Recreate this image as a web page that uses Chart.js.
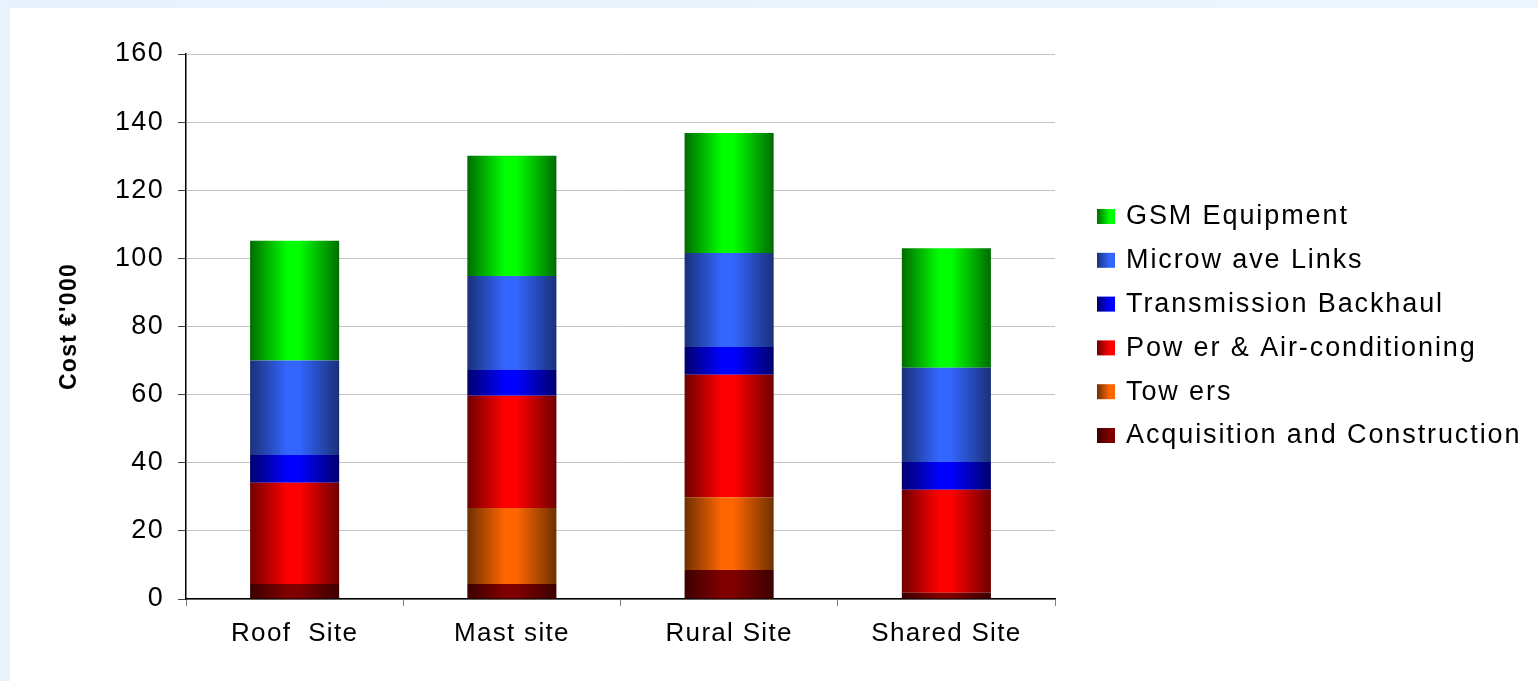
<!DOCTYPE html>
<html>
<head>
<meta charset="utf-8">
<script src="https://cdn.jsdelivr.net/npm/chart.js@4.4.1/dist/chart.umd.min.js"></script>
<style>
  html, body { margin: 0; padding: 0; background: #fff; }
  #wrap { width: 1538px; height: 681px; position: relative; }
</style>
</head>
<body>
<div id="wrap"><canvas id="costChart" width="1538" height="681"></canvas></div>
<script>
const categories = ['Roof  Site', 'Mast site', 'Rural Site', 'Shared Site'];

// bottom to top of each stack
const acquisition  = [4.4, 4.4, 8.5, 1.8];
const towers       = [0, 22.3, 21.4, 0];
const power        = [29.7, 33.0, 35.9, 30.3];
const transmission = [8.2, 7.5, 8.2, 8.1];
const microwave    = [27.7, 27.6, 27.6, 27.7];
const gsm          = [35.2, 35.3, 35.2, 35.1];

const seriesNames = ['Acquisition and Construction', 'Tow ers', 'Pow er & Air-conditioning',
                     'Transmission Backhaul', 'Microw ave Links', 'GSM Equipment'];
const darkCols   = ['#3c0000', '#6e3000', '#700000', '#00006e', '#1a3078', '#006c00'];
const brightCols = ['#800000', '#ff6600', '#ff0000', '#0000ff', '#3366ff', '#00ff00'];

const yMin = 0, yMax = 160, yStep = 20;
const barPct = 0.41;
const LS = '1.3px';

function barFill(i){
  return function(c){
    const chart = c.chart, xs = chart.scales.x;
    if(!xs || !chart.chartArea || c.dataIndex === undefined) return brightCols[i];
    const cx = xs.getPixelForValue(c.dataIndex);
    const w = xs.width / categories.length * barPct;
    const g = chart.ctx.createLinearGradient(cx - w/2, 0, cx + w/2, 0);
    g.addColorStop(0, darkCols[i]);
    g.addColorStop(0.42, brightCols[i]);
    g.addColorStop(0.55, brightCols[i]);
    g.addColorStop(1, darkCols[i]);
    return g;
  };
}

const values = [acquisition, towers, power, transmission, microwave, gsm];
const datasets = values.map((v, i) => ({
  label: seriesNames[i],
  data: v,
  backgroundColor: barFill(i),
  borderWidth: 0
}));

const spacing = {
  id: 'spacing',
  beforeLayout(chart){ chart.ctx.letterSpacing = LS; },
  beforeDraw(chart){
    const ctx = chart.ctx;
    ctx.save();
    ctx.fillStyle = '#ffffff';
    ctx.fillRect(0, 0, chart.width, chart.height);
    const g = ctx.createLinearGradient(0, 0, chart.width, 0);
    g.addColorStop(0, '#e6f1fc');
    g.addColorStop(1, '#eef6fd');
    ctx.fillStyle = g;
    ctx.fillRect(0, 0, chart.width, 8);
    ctx.fillStyle = '#e8f2fc';
    ctx.fillRect(0, 0, 10, chart.height);
    ctx.restore();
    ctx.letterSpacing = LS;
  }
};

const sideLegend = {
  id: 'sideLegend',
  afterDraw(chart){
    const ctx = chart.ctx;
    ctx.save();
    ctx.font = '27px "Liberation Sans", Arial, sans-serif';
    ctx.letterSpacing = '1.9px';
    ctx.textBaseline = 'middle';
    ctx.textAlign = 'left';
    const n = chart.data.datasets.length;
    for(let k = 0; k < n; k++){
      const i = n - 1 - k;
      const y = 217 + k * 43.8;
      const g = ctx.createLinearGradient(1097, 0, 1115, 0);
      g.addColorStop(0, darkCols[i]);
      g.addColorStop(0.7, brightCols[i]);
      g.addColorStop(1, brightCols[i]);
      ctx.fillStyle = g;
      ctx.fillRect(1097, y - 8, 18, 15);
      ctx.fillStyle = '#000';
      ctx.fillText(chart.data.datasets[i].label, 1126, y);
    }
    ctx.restore();
  }
};

Chart.defaults.font.family = '"Liberation Sans", Arial, sans-serif';
Chart.defaults.color = '#000';

new Chart(document.getElementById('costChart'), {
  type: 'bar',
  data: { labels: categories, datasets: datasets },
  options: {
    responsive: false,
    animation: false,
    layout: { padding: { left: 56, right: 483, top: 54, bottom: 0 } },
    plugins: { legend: { display: false }, tooltip: { enabled: false } },
    datasets: { bar: { categoryPercentage: 1, barPercentage: barPct } },
    scales: {
      x: {
        stacked: true,
        border: { color: '#000', width: 1.5 },
        grid: { drawOnChartArea: false, tickLength: 7, tickColor: '#808080', offset: true },
        ticks: { font: { size: 26 }, padding: 12, maxRotation: 0 },
        afterFit(s){ s.height = 82; }
      },
      y: {
        stacked: true,
        min: yMin, max: yMax,
        border: { color: '#000', width: 1.5 },
        grid: { color: '#c4c4c4', tickLength: 8, tickColor: '#404040' },
        ticks: { stepSize: yStep, font: { size: 27 }, padding: 14 },
        title: { display: true, text: "Cost €'000", font: { size: 23, weight: 'bold' }, padding: 0 },
        afterFit(s){ s.width = 130; }
      }
    }
  },
  plugins: [spacing, sideLegend]
});
</script>
</body>
</html>
